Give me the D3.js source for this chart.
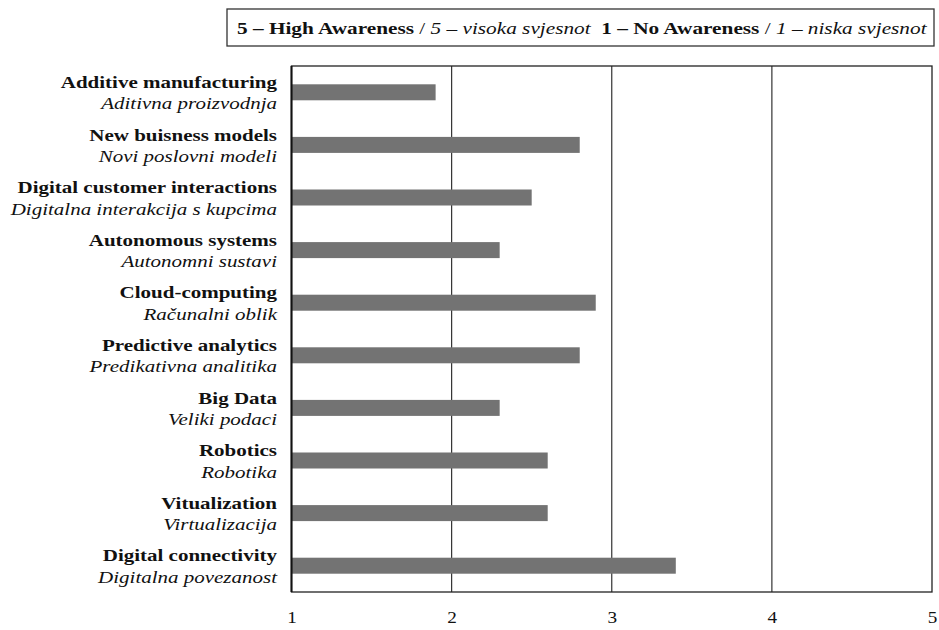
<!DOCTYPE html>
<html><head><meta charset="utf-8">
<script src="https://cdn.jsdelivr.net/npm/d3@7"></script>
<style>body{margin:0;background:#fff}svg{display:block}</style>
</head><body><svg id="c" width="939" height="630"></svg>
<script>
const labelsEn = ["Additive manufacturing","New buisness models","Digital customer interactions","Autonomous systems","Cloud-computing","Predictive analytics","Big Data","Robotics","Vitualization","Digital connectivity"];
const labelsHr = ["Aditivna proizvodnja","Novi poslovni modeli","Digitalna interakcija s kupcima","Autonomni sustavi","Računalni oblik","Predikativna analitika","Veliki podaci","Robotika","Virtualizacija","Digitalna povezanost"];
const values = [1.9,2.8,2.5,2.3,2.9,2.8,2.3,2.6,2.6,3.4];
const ticks = [1,2,3,4,5];

const FONT = "'Liberation Serif','Times New Roman',serif";
const SX = 1.2;
const svg = d3.select("#c");
const L=291.5, R=932, T=66, B=592;
const x = d3.scaleLinear().domain([1,5]).range([L,R]);
const y = d3.scaleBand().domain(d3.range(values.length)).range([T,B]);

// vertical grid
svg.append("g").selectAll("line").data(ticks.slice(1,-1)).join("line")
  .attr("x1",d=>x(d)).attr("x2",d=>x(d)).attr("y1",T).attr("y2",B)
  .attr("stroke","#333").attr("stroke-width",1.2);

// bars
svg.append("g").selectAll("rect").data(values).join("rect")
  .attr("x",x(1)).attr("y",(d,i)=>y(i)+y.bandwidth()/2-8)
  .attr("width",d=>x(d)-x(1)).attr("height",16).attr("fill","#737373");

// frame
svg.append("rect").attr("x",L).attr("y",T).attr("width",R-L).attr("height",B-T)
  .attr("fill","none").attr("stroke","#222").attr("stroke-width",1.3);
svg.append("line").attr("x1",L).attr("x2",L).attr("y1",T).attr("y2",B).attr("stroke","#111").attr("stroke-width",2);

// x axis labels
const ax = svg.append("g").attr("transform",`translate(0,${B})`)
  .call(d3.axisBottom(x).tickValues(ticks).tickFormat(d3.format("d")).tickSize(0).tickPadding(0));
ax.select(".domain").remove();
ax.selectAll(".tick text").attr("y",25).attr("x",0).attr("dy","0.35em")
  .style("font-family",FONT).attr("font-size",16).attr("fill","#111")
  .attr("transform",`scale(${SX},1)`);

// category labels
const lg = svg.append("g");
labelsEn.forEach((t,i)=>{
  const cy = y(i)+y.bandwidth()/2;
  lg.append("g").attr("transform",`translate(277,${cy-10.5}) scale(${SX},1)`)
    .append("text").attr("dy","0.35em").attr("text-anchor","end")
    .style("font-family",FONT).attr("font-weight","bold").attr("font-size",17.5).attr("fill","#111").text(t);
  lg.append("g").attr("transform",`translate(277,${cy+11}) scale(${SX},1)`)
    .append("text").attr("dy","0.35em").attr("text-anchor","end")
    .style("font-family",FONT).attr("font-style","italic").attr("font-size",17.5).attr("fill","#111").text(labelsHr[i]);
});

// legend box
svg.append("rect").attr("x",227).attr("y",9).attr("width",707).attr("height",37)
  .attr("fill","#fff").attr("stroke","#333").attr("stroke-width",1.3);
const lgG = svg.append("g").attr("transform","translate(237,28)");
const lt = lgG.append("text").attr("dy","0.35em").style("font-family",FONT).attr("font-size",17.5).attr("fill","#111");
lt.append("tspan").attr("font-weight","bold").text("5 – High Awareness");
lt.append("tspan").text(" / ");
lt.append("tspan").attr("font-style","italic").text("5 – visoka svjesnot");
lt.append("tspan").text("\u00a0\u00a0");
lt.append("tspan").attr("font-weight","bold").text("1 – No Awareness");
lt.append("tspan").text(" / ");
lt.append("tspan").attr("font-style","italic").text("1 – niska svjesnot");
const w = lt.node().getComputedTextLength();
lgG.attr("transform",`translate(237,28) scale(${690/w},1)`);
</script></body></html>
